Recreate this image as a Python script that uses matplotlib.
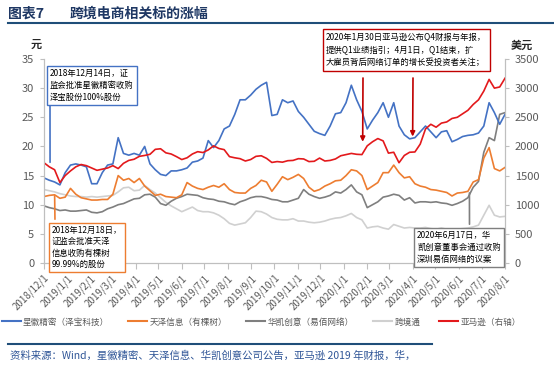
import matplotlib
matplotlib.use('Agg')
import matplotlib.pyplot as plt
import matplotlib.dates as mdates
from matplotlib.lines import Line2D
import pandas as pd

plt.rcParams['font.family'] = ['Noto Sans CJK SC', 'DejaVu Sans']

# weekly points, 2018/12/1 .. 2020/8/1
dates = pd.date_range('2018-12-01', periods=88, freq='7D')

xhjm = [14.6, 14.2, 13.9, 13.4, 15.5, 16.8, 17.0, 16.8, 16.5, 13.6,
        13.6, 15.5, 16.8, 17.0, 21.5, 18.8, 18.5, 18.8, 18.5, 20.0,
        17.0, 16.0, 15.2, 15.0, 15.8, 15.8, 16.0, 16.3, 17.3, 17.5,
        18.0, 21.0, 19.8, 21.0, 23.0, 23.5, 25.5, 28.0, 28.0, 28.8,
        29.8, 30.5, 31.0, 25.3, 25.5, 28.0, 27.5, 27.8, 26.0, 25.0,
        23.8, 22.6, 22.2, 21.9, 23.5, 25.6, 25.8, 27.5, 30.5, 28.0,
        26.0, 23.0, 24.5, 25.8, 27.5, 25.0, 27.5, 23.5, 22.0, 21.3,
        21.5, 22.5, 23.5, 22.5, 21.5, 22.5, 22.7, 20.8, 21.2, 21.7,
        21.9, 22.0, 22.3, 23.5, 27.5, 25.8, 23.8, 25.5]

tzxx = [11.4, 11.6, 11.7, 11.1, 11.3, 12.8, 11.8, 11.2, 11.0, 10.8,
        10.8, 10.9, 10.9, 11.8, 15.0, 14.2, 14.5, 13.8, 14.5, 13.2,
        12.4, 11.6, 11.8, 11.4, 11.3, 11.2, 11.7, 13.8, 13.2, 12.8,
        12.6, 13.0, 13.3, 13.0, 13.6, 12.6, 12.1, 12.0, 12.0, 12.8,
        13.3, 14.2, 13.9, 12.3, 13.5, 14.8, 14.3, 14.7, 15.2, 14.5,
        13.0, 12.3, 12.6, 13.2, 13.6, 14.1, 14.2, 15.0, 16.0, 15.8,
        15.0, 12.6, 13.2, 13.8, 15.5, 15.5, 16.8, 15.5, 14.6, 14.8,
        13.6, 13.2, 13.0, 12.6, 12.5, 12.3, 12.1, 11.5, 12.0, 12.1,
        12.3, 13.9, 14.3, 18.0, 19.8, 16.2, 15.8, 16.4]

hkcy = [9.8, 9.5, 9.3, 9.0, 9.1, 8.9, 8.9, 9.0, 9.1, 8.7,
        8.6, 8.8, 9.3, 9.6, 10.0, 10.2, 10.6, 11.0, 11.1, 11.7,
        11.8, 11.3, 10.2, 9.9, 10.6, 11.1, 11.4, 11.8, 11.7, 11.6,
        11.2, 11.0, 10.9, 10.6, 10.5, 10.2, 10.0, 10.5, 10.8, 11.2,
        11.4, 11.4, 11.2, 10.9, 10.8, 10.5, 10.5, 10.8, 11.1, 12.6,
        11.8, 11.4, 11.1, 11.3, 11.6, 12.2, 12.0, 12.6, 13.4, 12.2,
        11.7, 9.5, 10.0, 10.5, 11.3, 11.5, 11.8, 11.6, 10.8, 11.2,
        10.3, 10.5, 10.5, 10.4, 10.5, 10.3, 10.2, 9.9, 10.2, 10.6,
        11.2, 13.0, 14.0, 19.0, 21.5, 21.0, 25.5, 25.8]

kjt = [12.6, 12.4, 12.2, 11.9, 11.7, 11.5, 11.4, 11.4, 11.3, 11.4,
       11.3, 11.4, 11.5, 11.6, 12.2, 12.9, 13.0, 12.4, 12.5, 13.3,
       12.6, 12.0, 11.2, 10.4, 9.8, 9.3, 8.8, 9.2, 9.6, 9.0,
       8.8, 8.8, 8.6, 8.2, 7.6, 6.8, 6.5, 6.7, 6.9, 7.8,
       8.9, 8.8, 8.4, 7.8, 7.5, 7.4, 7.4, 7.6, 7.2, 7.2,
       7.0, 6.9, 7.0, 7.2, 7.5, 7.7, 7.8, 8.1, 8.5, 7.8,
       7.4, 6.0, 6.2, 6.3, 6.0, 5.8, 6.6, 6.3, 6.0, 6.1,
       6.0, 6.0, 6.1, 5.9, 5.8, 6.0, 5.8, 5.7, 5.8, 5.9,
       6.0, 6.2, 6.5, 8.2, 9.9, 8.2, 7.9, 8.0]

amzn = [1720, 1650, 1600, 1380, 1500, 1580, 1650, 1690, 1670, 1630,
        1590, 1610, 1630, 1670, 1620, 1710, 1760, 1780, 1830, 1845,
        1865, 1950, 1960, 1890, 1870, 1825, 1775, 1805, 1870, 1910,
        1895, 1940, 2010, 1965, 1945, 1825, 1805, 1790, 1750, 1775,
        1830, 1840, 1795, 1725, 1740, 1730, 1755, 1760, 1790, 1785,
        1740, 1745, 1800, 1750, 1760, 1785, 1840, 1860, 1880, 1865,
        1860, 2010, 2080, 2135, 2095, 1885, 1900, 1720, 1845, 1900,
        1905, 2040, 2300, 2380, 2330, 2400, 2420, 2480, 2500, 2560,
        2620, 2720, 2800, 2950, 3150, 3000, 3020, 3170]

labels = ['星徽精密（泽宝科技）', '天泽信息（有棵树）', '华凯创意（易佰网络）',
          '跨境通', '亚马逊（右轴）']
colors = ['#4472C4', '#ED7D31', '#7F7F7F', '#D0D0D0', '#E3191C']

W, H = 554, 376
fig = plt.figure(figsize=(W / 100, H / 100), dpi=100)
ax = fig.add_axes([44 / W, 1 - 263 / H, (505 - 44) / W, (263 - 59) / H])
ax2 = ax.twinx()

ax.plot(dates, kjt, color=colors[3], lw=1.2)
ax.plot(dates, hkcy, color=colors[2], lw=1.2)
ax.plot(dates, tzxx, color=colors[1], lw=1.2)
ax.plot(dates, xhjm, color=colors[0], lw=1.2)
ax2.plot(dates, amzn, color=colors[4], lw=1.2)

ax.set_xlim(pd.Timestamp('2018-12-01'), pd.Timestamp('2020-08-01'))
ax.set_ylim(0, 35)
ax2.set_ylim(0, 3500)
ax.set_yticks(range(0, 36, 5))
ax2.set_yticks(range(0, 3501, 500))

months = pd.date_range('2018-12-01', '2020-08-01', freq='MS')
ax.set_xticks(months)
ax.set_xticklabels([f'{d.year}/{d.month}/{d.day}' for d in months],
                   rotation=45, ha='right', rotation_mode='anchor')

for a in (ax, ax2):
    for s in a.spines.values():
        s.set_color('#BFBFBF')
    a.spines['top'].set_visible(False)
ax.tick_params(axis='x', length=4, color='#BFBFBF', labelsize=7,
               labelcolor='#595959', pad=3)
ax.tick_params(axis='y', length=3, color='#BFBFBF', labelsize=8,
               labelcolor='#595959', pad=4)
ax2.tick_params(axis='y', length=3, color='#BFBFBF', labelsize=8,
                labelcolor='#595959', pad=4)

fig.text(36 / W, 1 - 44 / H, '元', fontsize=8, fontweight='bold',
         ha='center', va='center', color='#262626')
fig.text(522 / W, 1 - 45 / H, '美元', fontsize=8, fontweight='bold',
         ha='center', va='center', color='#262626')

# annotations
def d(s):
    return mdates.date2num(pd.Timestamp(s))

ax.annotate('', xy=(d('2018-12-09'), 16.8), xytext=(50, H - 101),
            textcoords='figure pixels',
            arrowprops=dict(arrowstyle='-', color=colors[0], lw=1.2))
fig.text(50 / W, 1 - 69 / H, '2018年12月14日，证\n监会批准星徽精密收购\n泽宝股份100%股份',
         fontsize=6, va='top', ha='left', linespacing=1.45,
         bbox=dict(boxstyle='square,pad=0.35', fc='white', ec=colors[0], lw=1))

ax.annotate('', xy=(d('2018-12-15'), 12.0), xytext=(55, H - 222),
            textcoords='figure pixels',
            arrowprops=dict(arrowstyle='-', color=colors[1], lw=1.2))
fig.text(52 / W, 1 - 226 / H, '2018年12月18日，\n证监会批准天泽\n信息收购有棵树\n99.99%的股份',
         fontsize=6, va='top', ha='left', linespacing=1.35,
         bbox=dict(boxstyle='square,pad=0.35', fc='white', ec=colors[1], lw=1))

fig.text(326 / W, 1 - 32 / H,
         '2020年1月30日亚马逊公布Q4财报与年报，\n提供Q1业绩指引；4月1日，Q1结束，扩\n大雇员背后网络订单的增长受投资者关注；',
         fontsize=6, va='top', ha='left', linespacing=1.6,
         bbox=dict(boxstyle='square,pad=0.4', fc='white', ec='#C00000', lw=1))
ax.annotate('', xy=(d('2020-01-26'), 20.8), xytext=(363, H - 78),
            textcoords='figure pixels',
            arrowprops=dict(arrowstyle='-|>', color='#C00000', lw=1.2,
                            mutation_scale=7, shrinkA=0, shrinkB=0))
ax.annotate('', xy=(d('2020-04-01'), 21.7), xytext=(413, H - 78),
            textcoords='figure pixels',
            arrowprops=dict(arrowstyle='-|>', color='#C00000', lw=1.2,
                            mutation_scale=7, shrinkA=0, shrinkB=0))

ax.annotate('', xy=(d('2020-06-15'), 12.5), xytext=(469.5, H - 227),
            textcoords='figure pixels',
            arrowprops=dict(arrowstyle='-', color='#7F7F7F', lw=1.2))
fig.text(417 / W, 1 - 231 / H, '2020年6月17日，华\n凯创意董事会通过收购\n深圳易佰网络的议案',
         fontsize=6, va='top', ha='left', linespacing=1.45,
         bbox=dict(boxstyle='square,pad=0.35', fc='white', ec='#7F7F7F', lw=1))

# legend
handles = [Line2D([], [], color=c, lw=1.5) for c in colors]
fig.legend(handles, labels, loc='center', bbox_to_anchor=(0.472, 1 - 322 / H),
           ncol=5, frameon=False, fontsize=6.2, handlelength=2.2,
           handletextpad=0.3, columnspacing=2.2, labelcolor='#595959')

# title and source
fig.text(8 / W, 1 - 14 / H, '图表7', fontsize=10, fontweight='bold',
         color='#1F3864', va='center', ha='left')
fig.text(70 / W, 1 - 14 / H, '跨境电商相关标的涨幅', fontsize=10, fontweight='bold',
         color='#1F3864', va='center', ha='left')
fig.add_artist(Line2D([8 / W, 1.0], [1 - 22.5 / H] * 2, color='#1F4E79', lw=1.5))
fig.add_artist(Line2D([8 / W, 432 / W], [1 - 344 / H] * 2, color='#1F4E79', lw=1.5))
fig.text(10 / W, 1 - 356 / H,
         '资料来源：Wind，星徽精密、天泽信息、华凯创意公司公告，亚马逊 2019 年财报，华，',
         fontsize=7.5, color='#2F5597', va='center', ha='left', style='italic')

fig.savefig('out.png', dpi=100)
